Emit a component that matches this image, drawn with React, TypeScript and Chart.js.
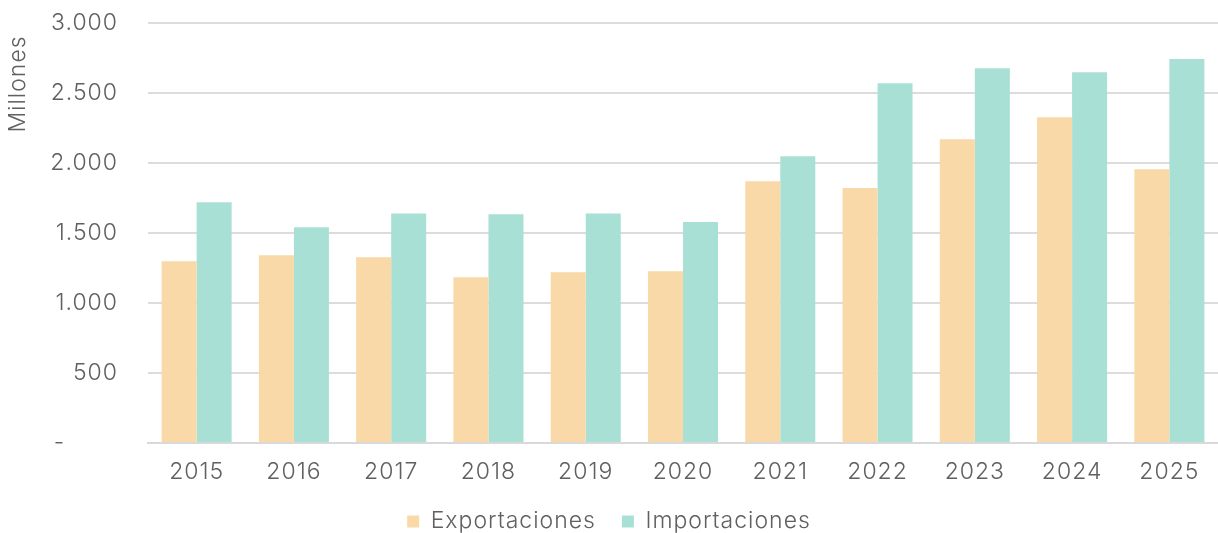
import React, { useEffect, useRef } from "react";
import { Chart, registerables } from "chart.js";

Chart.register(...registerables);

const categories = ["2015", "2016", "2017", "2018", "2019", "2020", "2021", "2022", "2023", "2024", "2025"];
const exportaciones = [1298, 1341, 1326, 1184, 1219, 1226, 1869, 1821, 2169, 2326, 1955];
const importaciones = [1719, 1541, 1639, 1634, 1639, 1579, 2048, 2569, 2676, 2648, 2743];
const yAxisTitle = "Millones";
const seriesNames = ["Exportaciones", "Importaciones"];

const FONT = "Inter, 'Open Sans', sans-serif";
const WEIGHT = "300";
const SIZE = 23;
const TEXT = "#606060";
const W = 1218;
const H = 543;

function fmt(v: number): string {
  if (v === 0) return "-";
  return String(v).replace(/\B(?=(\d{3})+(?!\d))/g, ".");
}

const spacingPlugin = {
  id: "letterSpacing",
  beforeLayout(chart: any) {
    (chart.ctx as any).letterSpacing = "1px";
  },
  beforeDraw(chart: any) {
    (chart.ctx as any).letterSpacing = "1px";
  },
};

const yTitlePlugin = {
  id: "yTitle",
  afterDraw(chart: any) {
    const ctx = chart.ctx;
    ctx.save();
    ctx.translate(18, 84);
    ctx.rotate(-Math.PI / 2);
    ctx.font = `${WEIGHT} ${SIZE}px ${FONT}`;
    ctx.fillStyle = TEXT;
    ctx.textAlign = "center";
    ctx.textBaseline = "middle";
    ctx.fillText(yAxisTitle, 0, 0);
    ctx.restore();
  },
};

export default function App() {
  const ref = useRef<HTMLCanvasElement | null>(null);
  useEffect(() => {
    if (!ref.current) return;
    const font = { family: FONT, size: SIZE, weight: WEIGHT as any };
    const chart = new Chart(ref.current, {
      type: "bar",
      data: {
        labels: categories,
        datasets: [
          {
            label: seriesNames[0],
            data: exportaciones,
            backgroundColor: "#F9D9A7",
            categoryPercentage: 0.72,
            barPercentage: 1.0,
          },
          {
            label: seriesNames[1],
            data: importaciones,
            backgroundColor: "#A8E0D6",
            categoryPercentage: 0.72,
            barPercentage: 1.0,
          },
        ],
      },
      options: {
        responsive: false,
        animation: false,
        layout: { padding: { top: 23, right: 0, bottom: 0, left: 0 } },
        plugins: {
          legend: {
            position: "bottom",
            labels: {
              boxWidth: 12,
              boxHeight: 12,
              padding: 26,
              color: TEXT,
              font,
            },
          },
          tooltip: { enabled: false },
        },
        scales: {
          x: {
            afterFit(scale: any) {
              scale.height = 41;
            },
            grid: { display: false, drawTicks: false },
            border: { display: true, color: "#d9d9d9", width: 2 },
            ticks: {
              color: TEXT,
              padding: 17.8,
              font: { ...font, lineHeight: 1 },
            },
          },
          y: {
            min: 0,
            max: 3000,
            afterFit(scale: any) {
              scale.width = 148;
            },
            grid: { color: "#dcdcdc", lineWidth: 2, drawTicks: true, tickLength: 30, tickColor: "rgba(0,0,0,0)" },
            border: { display: false },
            ticks: {
              stepSize: 500,
              padding: 0,
              color: TEXT,
              font,
              callback: (v: any) => (v === 0 ? "-" + "\u2007".repeat(3) + "\u2009" : fmt(Number(v))),
            },
          },
        },
      },
      plugins: [spacingPlugin, yTitlePlugin],
    });
    return () => chart.destroy();
  }, []);
  return (
    <div style={{ position: "fixed", left: 0, top: 0, width: W, height: 533, overflow: "hidden", background: "#fff" }}>
      <canvas ref={ref} width={W} height={H} style={{ width: W, height: H, display: "block" }} />
    </div>
  );
}
